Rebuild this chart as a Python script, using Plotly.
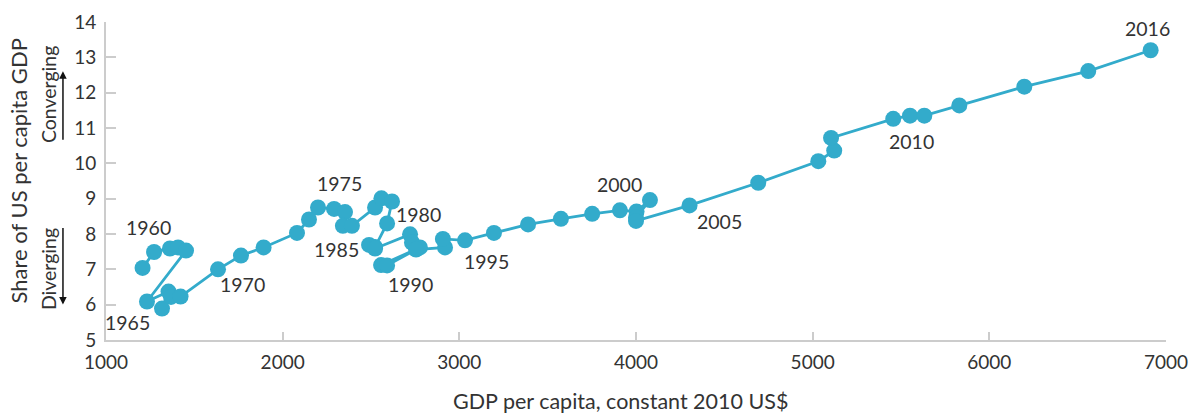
import plotly.graph_objects as go

years = list(range(1960, 2017))
gdp_per_capita = [
    1207, 1272, 1362, 1408, 1453, 1232, 1354, 1317, 1368, 1422,
    1634, 1764, 1892, 2081, 2149, 2200, 2291, 2353, 2341, 2392,
    2523, 2559, 2619, 2591, 2523, 2489, 2523, 2721, 2732, 2777,
    2557, 2591, 2755, 2919, 2907, 3032, 3196, 3389, 3575, 3752,
    3909, 4003, 4079, 4000, 4000, 4303, 4692, 5032, 5122, 5104,
    5456, 5551, 5632, 5830, 6198, 6560, 6913,
]
share_of_us = [
    7.04, 7.49, 7.59, 7.62, 7.53, 6.09, 6.37, 5.89, 6.22, 6.23,
    7.00, 7.39, 7.62, 8.03, 8.41, 8.75, 8.71, 8.62, 8.23, 8.23,
    8.75, 9.01, 8.92, 8.30, 7.63, 7.69, 7.59, 7.99, 7.76, 7.62,
    7.12, 7.11, 7.56, 7.62, 7.86, 7.82, 8.03, 8.27, 8.43, 8.57,
    8.67, 8.64, 8.96, 8.47, 8.37, 8.81, 9.45, 10.06, 10.36, 10.72,
    11.26, 11.35, 11.35, 11.64, 12.17, 12.61, 13.20,
]

label_years = ["1960", "1965", "1970", "1975", "1980", "1985", "1990", "1995", "2000", "2005", "2010", "2016"]
label_x = [1238, 1119, 1770, 2319, 2769, 2302, 2721, 3151, 3909, 4475, 5562, 6898]
label_y = [8.18, 5.49, 6.56, 9.42, 8.55, 7.55, 6.56, 7.22, 9.40, 8.35, 10.62, 13.83]

x_ticks = [1000, 2000, 3000, 4000, 5000, 6000, 7000]
y_ticks = [5, 6, 7, 8, 9, 10, 11, 12, 13, 14]

COLOR = "#33abcb"
FONT = "Lato"
TXT = "#333333"

fig = go.Figure()
fig.add_trace(go.Scatter(
    x=gdp_per_capita, y=share_of_us, mode="lines+markers",
    line=dict(color=COLOR, width=2.8),
    marker=dict(color=COLOR, size=16, line=dict(width=0)),
    text=years, hoverinfo="text+x+y", showlegend=False,
))

annotations = []
for t, xv, yv in zip(label_years, label_x, label_y):
    annotations.append(dict(x=xv, y=yv, xref="x", yref="y", text=t, showarrow=False,
                            xanchor="center", yanchor="middle",
                            font=dict(family=FONT, size=19.5, color=TXT)))

annotations += [
    dict(x=-0.083, y=0.53, xref="paper", yref="paper", text="Share of US per capita GDP",
         textangle=-90, showarrow=False, xanchor="center", yanchor="middle",
         font=dict(family=FONT, size=22, color=TXT)),
    dict(x=0.485, y=-0.192, xref="paper", yref="paper", text="GDP per capita, constant 2010 US$",
         showarrow=False, xanchor="center", yanchor="middle",
         font=dict(family=FONT, size=21.5, color=TXT)),
    dict(x=-0.0542, y=0.772, xref="paper", yref="paper", text="Converging",
         textangle=-90, showarrow=False, xanchor="center", yanchor="middle",
         font=dict(family=FONT, size=19.5, color=TXT)),
    dict(x=-0.0542, y=0.2217, xref="paper", yref="paper", text="Diverging",
         textangle=-90, showarrow=False, xanchor="center", yanchor="middle",
         font=dict(family=FONT, size=19.5, color=TXT)),
    dict(x=-0.0406, y=0.845, xref="paper", yref="paper", ax=0, ay=70, text="",
         showarrow=True, arrowhead=2, arrowsize=1, arrowwidth=1.5, arrowcolor="#111111"),
    dict(x=-0.0406, y=0.112, xref="paper", yref="paper", ax=0, ay=-78, text="",
         showarrow=True, arrowhead=2, arrowsize=1, arrowwidth=1.5, arrowcolor="#111111"),
]

fig.update_layout(
    width=1191, height=416,
    margin=dict(l=106, r=25, t=22, b=76),
    paper_bgcolor="white", plot_bgcolor="white",
    font=dict(family=FONT, size=19, color=TXT),
    annotations=annotations,
    xaxis=dict(range=[1000, 7000], tickvals=x_ticks, showgrid=False, zeroline=False,
               automargin=False, ticklabelstandoff=4,
               showline=True, linecolor="#cccccc", linewidth=2,
               ticks="inside", ticklen=8, tickwidth=1.5, tickcolor="#cccccc",
               tickfont=dict(family=FONT, size=19, color=TXT)),
    yaxis=dict(range=[5, 14], tickvals=y_ticks, showgrid=False, zeroline=False,
               automargin=False, ticklabelstandoff=4,
               showline=True, linecolor="#cccccc", linewidth=2,
               ticks="inside", ticklen=10, tickwidth=1.5, tickcolor="#cccccc",
               tickfont=dict(family=FONT, size=19, color=TXT)),
)

fig.write_html("out.html", config={"displayModeBar": False},
               post_script="document.body.style.margin='0';")
